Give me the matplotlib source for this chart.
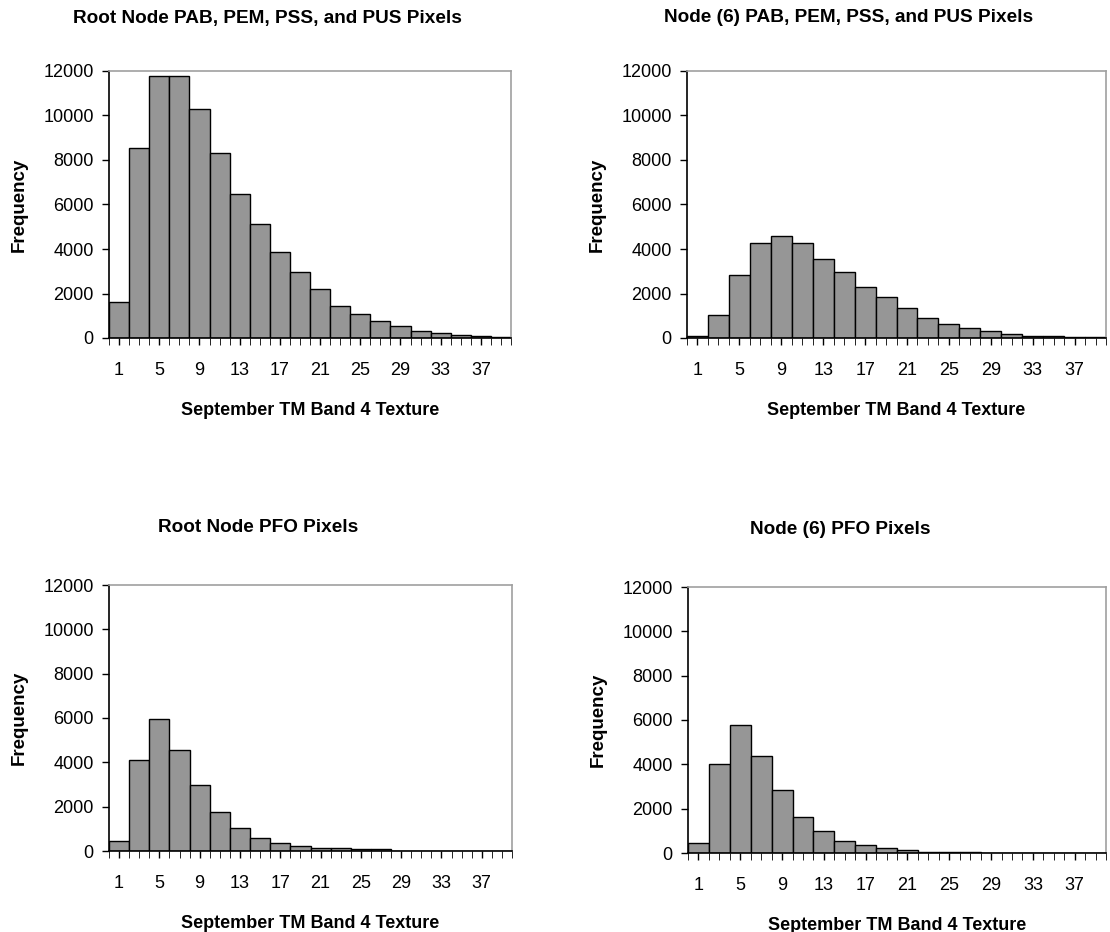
import numpy as np
import matplotlib
matplotlib.use('Agg')
import matplotlib.pyplot as plt
from matplotlib.ticker import MultipleLocator, FixedLocator

plt.rcParams['font.family'] = ['Liberation Sans', 'DejaVu Sans']

# ── data: 20 bins of width 2, centred on 1, 3, ..., 39 ──
bin_centers = np.arange(1, 40, 2)

root_pab = [1600, 8520, 11790, 11790, 10280, 8295, 6470, 5140, 3855, 2950,
            2190, 1450, 1080, 755, 540, 330, 225, 150, 105, 45]
node6_pab = [100, 1030, 2850, 4250, 4580, 4260, 3550, 2980, 2270, 1840,
             1360, 920, 650, 435, 320, 175, 110, 100, 55, 55]
root_pfo = [430, 4120, 5940, 4560, 2980, 1740, 1035, 605, 345, 225,
            135, 135, 75, 75, 0, 0, 0, 0, 0, 0]
node6_pfo = [445, 4000, 5780, 4380, 2820, 1635, 1000, 560, 340, 237,
             133, 60, 60, 60, 0, 0, 0, 0, 0, 0]

titles = ["Root Node PAB, PEM, PSS, and PUS Pixels",
          "Node (6) PAB, PEM, PSS, and PUS Pixels",
          "Root Node PFO Pixels",
          "Node (6) PFO Pixels"]
series = [root_pab, node6_pab, root_pfo, node6_pfo]
x_tick_labels = [str(v) for v in range(1, 38, 4)]

W, H = 1110, 932
fig = plt.figure(figsize=(W / 100, H / 100), dpi=100)

# axes boxes in pixels: left, right, top, bottom
boxes = [(109, 511, 71, 338), (687, 1106, 71, 338),
         (109, 512, 585, 851), (688, 1106, 587, 853)]
title_pos = [(267, 18), (849, 18), (258, 528), (840, 530)]

for vals, title, (l, r, t, b), (tx, ty) in zip(series, titles, boxes, title_pos):
    ax = fig.add_axes([l / W, 1 - b / H, (r - l) / W, (b - t) / H])
    ax.bar(bin_centers, vals, width=2, color='#969696',
           edgecolor='black', linewidth=1.0)
    ax.set_xlim(0, 40)
    ax.set_ylim(0, 12000)
    ax.yaxis.set_major_locator(MultipleLocator(2000))
    ax.xaxis.set_major_locator(FixedLocator(list(range(1, 38, 4))))
    ax.set_xticklabels(x_tick_labels)
    ax.xaxis.set_minor_locator(MultipleLocator(1))
    ax.tick_params(axis='both', direction='out', labelsize=13, width=1,
                   color='black')
    ax.tick_params(axis='y', length=5, pad=6)
    ax.tick_params(axis='x', which='major', length=5, pad=12)
    ax.tick_params(axis='x', which='minor', length=5)
    for s in ['left', 'bottom']:
        ax.spines[s].set_color('black')
        ax.spines[s].set_linewidth(1.2)
    for s in ['top', 'right']:
        ax.spines[s].set_color('#a0a0a0')
        ax.spines[s].set_linewidth(1.2)
    ax.set_ylabel("Frequency", fontsize=13.5, fontweight='bold', labelpad=11)
    ax.set_xlabel("September TM Band 4 Texture", fontsize=13, fontweight='bold',
                  labelpad=17)
    fig.text(tx / W, 1 - ty / H, title, ha='center', va='center',
             fontsize=13.7, fontweight='bold')

plt.savefig("out.png", dpi=100, facecolor='white')
